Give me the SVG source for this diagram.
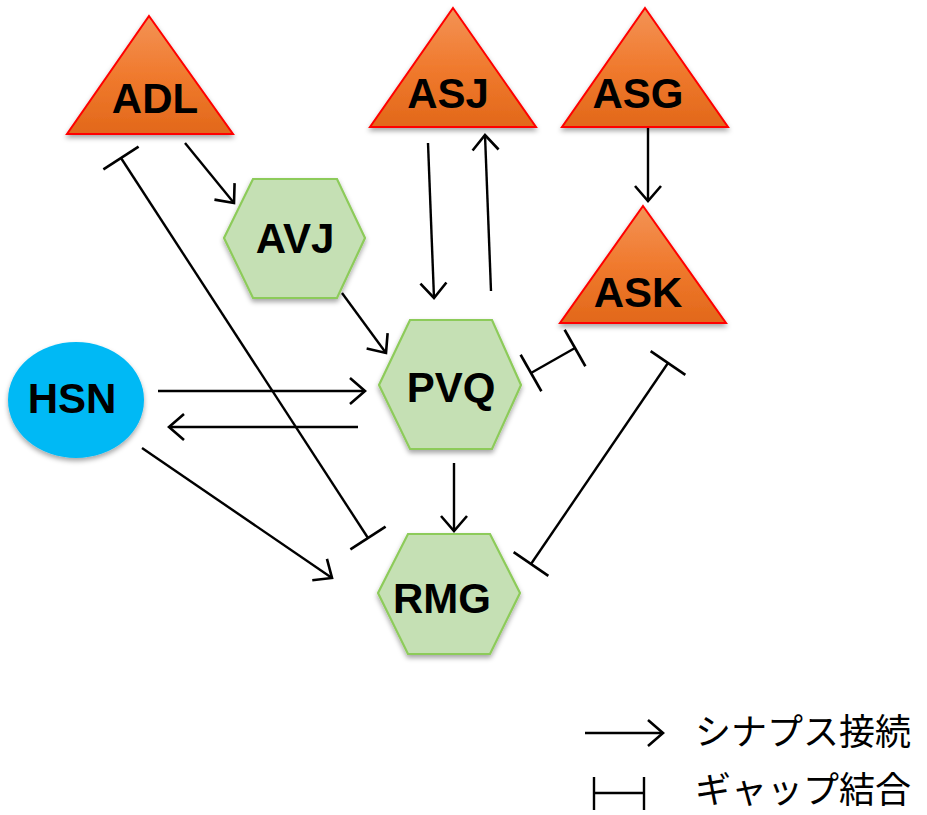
<svg xmlns="http://www.w3.org/2000/svg" width="927" height="815" viewBox="0 0 927 815">
<style>
.tri{fill:url(#og);stroke:#FF0000;stroke-width:2;filter:url(#sh)}
.hex{fill:#C5E0B4;stroke:#8DCB5A;stroke-width:2.2;filter:url(#sh)}
.lbl{font-family:"Liberation Sans",Arial,sans-serif;font-weight:bold;font-size:42px;fill:#000;text-anchor:middle}
.syn{stroke:#000;stroke-width:2.4;fill:none;marker-end:url(#arr)}
.gap{stroke:#000;stroke-width:2.4;fill:none;marker-start:url(#bar);marker-end:url(#bar)}
.leg{font-family:"Noto Sans CJK JP","Noto Sans",sans-serif;font-size:36px;fill:#000}
</style>
<defs>
<linearGradient id="og" x1="0" y1="0" x2="0" y2="1">
<stop offset="0" stop-color="#F39356"/>
<stop offset="0.5" stop-color="#F07A2E"/>
<stop offset="1" stop-color="#E2681A"/>
</linearGradient>
<filter id="sh" x="-20%" y="-20%" width="140%" height="150%">
<feDropShadow dx="0" dy="3" stdDeviation="2.5" flood-color="#000" flood-opacity="0.35"/>
</filter>
<marker id="arr" markerUnits="userSpaceOnUse" markerWidth="40" markerHeight="40" viewBox="-20 -20 40 40" refX="0" refY="0" orient="auto" overflow="visible">
<path d="M-15,-13 L0,0 L-15,13" fill="none" stroke="#000" stroke-width="2.6"/>
</marker>
<marker id="bar" markerUnits="userSpaceOnUse" markerWidth="50" markerHeight="50" viewBox="-25 -25 50 50" refX="0" refY="0" orient="auto" overflow="visible">
<line x1="0" y1="-21" x2="0" y2="21" stroke="#000" stroke-width="2.6"/>
</marker>
</defs>

<g id="connectors">
<line class="syn" x1="185" y1="143" x2="234" y2="203"/>
<line class="syn" x1="342" y1="293" x2="386" y2="353"/>
<line class="syn" x1="428" y1="143" x2="434" y2="298"/>
<line class="syn" x1="491" y1="291" x2="485" y2="135"/>
<line class="syn" x1="648" y1="128" x2="648" y2="201"/>
<line class="syn" x1="158" y1="391" x2="365" y2="391"/>
<line class="syn" x1="358" y1="427" x2="169" y2="427"/>
<line class="syn" x1="454" y1="463" x2="454" y2="531"/>
<line class="syn" x1="142" y1="448" x2="332" y2="578"/>
<line class="gap" x1="121" y1="158" x2="368" y2="538"/>
<line class="gap" x1="531" y1="373" x2="575" y2="348"/>
<line class="gap" x1="668" y1="363" x2="531" y2="564"/>
</g>

<g id="ADL"><polygon class="tri" points="149,16 233,134 67,134"/><text class="lbl" x="155" y="113">ADL</text></g>
<g id="ASJ"><polygon class="tri" points="453,8 536,127 370,127"/><text class="lbl" x="448" y="108">ASJ</text></g>
<g id="ASG"><polygon class="tri" points="645,8 728,127 562,127"/><text class="lbl" x="638" y="108">ASG</text></g>
<g id="ASK"><polygon class="tri" points="643,206 726,323 560,323"/><text class="lbl" x="638" y="307">ASK</text></g>
<g id="AVJ"><polygon class="hex" points="224,238 253,179 337,179 365,238 337,298 253,298"/><text class="lbl" x="295" y="253">AVJ</text></g>
<g id="PVQ"><polygon class="hex" points="379,385 410,320 492,320 521,385 492,449 410,449"/><text class="lbl" x="451" y="402">PVQ</text></g>
<g id="RMG"><polygon class="hex" points="378,593 408,534 490,534 520,593 490,654 408,654"/><text class="lbl" x="442" y="613">RMG</text></g>
<g id="HSN"><ellipse cx="76" cy="400" rx="68" ry="58" fill="#00B9F5" filter="url(#sh)"/><text class="lbl" x="72" y="413">HSN</text></g>

<g id="legend">
<line x1="585" y1="733" x2="663" y2="733" stroke="#000" stroke-width="2.4" marker-end="url(#arr)"/>
<text class="leg" x="695" y="745">シナプス接続</text>
<line x1="594" y1="777" x2="594" y2="810" stroke="#000" stroke-width="2.4"/>
<line x1="644" y1="777" x2="644" y2="810" stroke="#000" stroke-width="2.4"/>
<line x1="594" y1="793" x2="644" y2="793" stroke="#000" stroke-width="2.4"/>
<text class="leg" x="695" y="803">ギャップ結合</text>
</g>
</svg>
